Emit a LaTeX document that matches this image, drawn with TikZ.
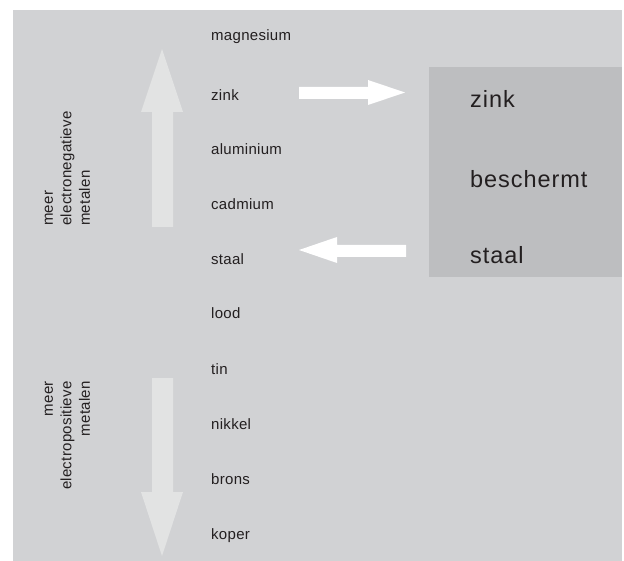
\documentclass[tikz,border=0pt]{standalone}
\usepackage{fontspec}
\setmainfont{Liberation Sans}
\newfontfamily\listfont[LetterSpace=2]{Liberation Sans}
\newfontfamily\bigfont[LetterSpace=4]{Liberation Sans}
\definecolor{bgc}{HTML}{D1D2D4}
\definecolor{boxc}{HTML}{BDBEC0}
\definecolor{lightarrow}{HTML}{E2E3E3}
\definecolor{txt}{HTML}{231F20}
\begin{document}
\begin{tikzpicture}[x=1pt,y=-1pt,
  metal/.style={anchor=base west,inner sep=0pt,text=txt,font=\listfont\fontsize{15}{18.5}\selectfont},
  bigtxt/.style={anchor=base west,inner sep=0pt,text=txt,font=\bigfont\fontsize{23.5}{28}\selectfont},
  sidetxt/.style={inner sep=0pt,text=txt,rotate=90,font=\listfont\fontsize{15}{18.5}\selectfont}]
\useasboundingbox (0,0) rectangle (624,561);
\fill[bgc] (13,10) rectangle (622,561);
\node[fill=boxc,anchor=north west,minimum width=193pt,minimum height=210pt,inner sep=0pt] (box) at (429,67) {};
% vertical arrows
\fill[lightarrow] (162,49) -- (183,112) -- (173,112) -- (173,227) -- (152,227) -- (152,112) -- (141,112) -- cycle;
\fill[lightarrow] (162,556) -- (183,492) -- (173,492) -- (173,378) -- (152,378) -- (152,492) -- (141,492) -- cycle;
% horizontal arrows
\fill[white] (405,92.5) -- (368,80) -- (368,87) -- (299,87) -- (299,99) -- (368,99) -- (368,105) -- cycle;
\fill[white] (299,250) -- (337,237) -- (337,245) -- (406,245) -- (406,257) -- (337,257) -- (337,263) -- cycle;
% metal list
\node[metal] (magnesium) at (211,40.3) {magnesium};
\node[metal] (zink) at (211,101) {zink};
\node[metal] (aluminium) at (211,155) {aluminium};
\node[metal] (cadmium) at (211,209.3) {cadmium};
\node[metal] (staal) at (211,264.3) {staal};
\node[metal] (lood) at (211,318.3) {lood};
\node[metal] (tin) at (211,374) {tin};
\node[metal] (nikkel) at (211,429) {nikkel};
\node[metal] (brons) at (211,484) {brons};
\node[metal] (koper) at (211,539.3) {koper};
% box text
\node[bigtxt] (bzink) at (470,108) {zink};
\node[bigtxt] (bbeschermt) at (470,187.3) {beschermt};
\node[bigtxt] (bstaal) at (470,264) {staal};
% side labels
\node[sidetxt,anchor=west,align=left] (neg) at (67.5,226) {meer\\electronegatieve\\metalen};
\node[sidetxt,anchor=east,align=right] (pos) at (67.5,381) {meer\\electropositieve\\metalen};
\end{tikzpicture}
\end{document}
